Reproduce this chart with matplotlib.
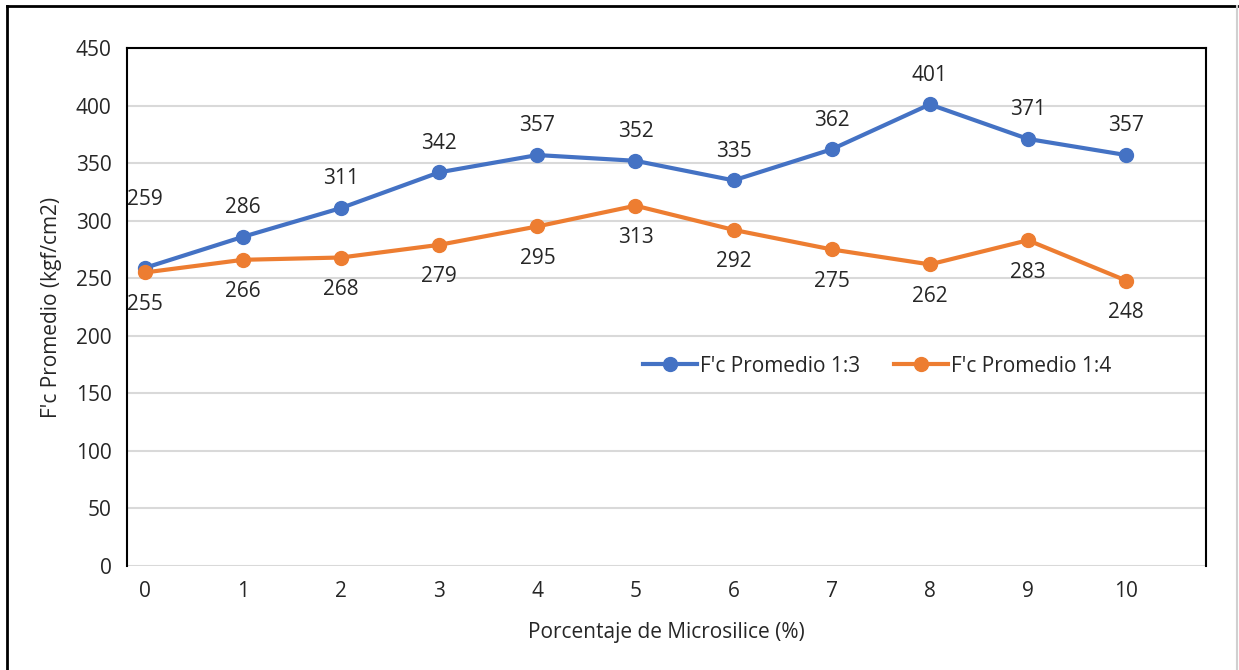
import matplotlib.pyplot as plt
from matplotlib.lines import Line2D

# --- datos ---
porcentaje = [0, 1, 2, 3, 4, 5, 6, 7, 8, 9, 10]
fc_13 = [259, 286, 311, 342, 357, 352, 335, 362, 401, 371, 357]
fc_14 = [255, 266, 268, 279, 295, 313, 292, 275, 262, 283, 248]
y_ticks = [0, 50, 100, 150, 200, 250, 300, 350, 400, 450]

azul = '#4472C4'
naranja = '#ED7D31'
texto = '#262626'
fs = 15

plt.rcParams['font.family'] = ['Open Sans', 'DejaVu Sans']

fig = plt.figure(figsize=(12.39, 6.70), dpi=100)

# marco exterior
fig.add_artist(Line2D([7 / 1239, 7 / 1239], [0, 1 - 6 / 670], transform=fig.transFigure, color='black', lw=2))
fig.add_artist(Line2D([7 / 1239, 1237 / 1239], [1 - 6 / 670, 1 - 6 / 670], transform=fig.transFigure, color='black', lw=2))
fig.add_artist(Line2D([1237 / 1239, 1237 / 1239], [0, 1 - 6 / 670], transform=fig.transFigure, color='#d0d0d0', lw=1.5))

ax = fig.add_axes([127 / 1239, 1 - 566 / 670, (1206 - 127) / 1239, (566 - 48) / 670])

ax.plot(porcentaje, fc_13, color=azul, lw=3, marker='o', ms=10, label="F'c Promedio 1:3", zorder=3)
ax.plot(porcentaje, fc_14, color=naranja, lw=3, marker='o', ms=10, label="F'c Promedio 1:4", zorder=3)

for i, (x, v) in enumerate(zip(porcentaje, fc_13)):
    dy = 49 if i == 0 else 21  # la primera etiqueta queda más arriba
    ax.annotate(str(v), (x, v), xytext=(0, dy), textcoords='offset points',
                ha='center', va='center', fontsize=fs, color=texto)
for x, v in zip(porcentaje, fc_14):
    ax.annotate(str(v), (x, v), xytext=(0, -23), textcoords='offset points',
                ha='center', va='center', fontsize=fs, color=texto)

ax.set_xlim(-0.183, 10.815)
ax.set_ylim(0, 450)
ax.set_xticks(porcentaje)
ax.set_yticks(y_ticks)
ax.grid(axis='y', color='#d9d9d9', lw=1.5, zorder=0)
ax.set_axisbelow(True)
ax.tick_params(length=0, labelsize=fs, labelcolor=texto, pad=11)
for s in ['left', 'top', 'right']:
    ax.spines[s].set_color('black')
    ax.spines[s].set_linewidth(1.5)
ax.spines['bottom'].set_visible(False)

ax.set_xlabel('Porcentaje de Microsilice (%)', fontsize=fs, color=texto, labelpad=14)
ax.set_ylabel('F\'c Promedio (kgf/cm2)', fontsize=fs, color=texto, labelpad=10)

fig.legend(loc='center', bbox_to_anchor=(877 / 1239, 1 - 366 / 670), ncol=2, frameon=False,
           fontsize=fs, handlelength=2.6, handletextpad=0.15, columnspacing=1.6,
           labelcolor=texto)

fig.savefig('out.png', dpi=100)
